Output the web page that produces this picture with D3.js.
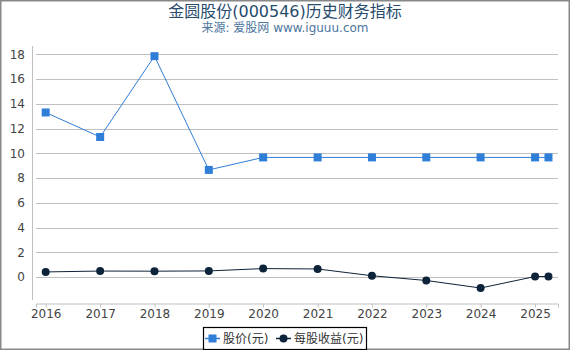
<!DOCTYPE html>
<html>
<head>
<meta charset="utf-8">
<script src="https://cdn.jsdelivr.net/npm/d3@7"></script>
<style>
  body { margin: 0; background: #fff; }
  svg { display: block; font-family: "DejaVu Sans", "Noto Sans CJK SC", sans-serif; }
</style>
</head>
<body>
<svg id="chart" width="570" height="350"></svg>
<script>
// data
const dates = ['2016-01-01', '2017-01-01', '2018-01-01', '2019-01-01', '2020-01-01', '2021-01-01',
  '2022-01-01', '2023-01-01', '2024-01-01', '2025-01-01', '2025-04-01'];
const price = [13.3, 11.32, 17.85, 8.66, 9.67, 9.67, 9.67, 9.67, 9.67, 9.67, 9.67];
const eps = [0.42, 0.49, 0.48, 0.5, 0.69, 0.66, 0.11, -0.27, -0.88, 0.05, 0.05];
const yTicks = [0, 2, 4, 6, 8, 10, 12, 14, 16, 18];
const seriesNames = ['股价(元)', '每股收益(元)'];
const colors = ['#2f7ed8', '#0d233a'];

const svg = d3.select('#chart');
const W = 570, H = 350;
const parse = d3.timeParse('%Y-%m-%d');
const xs = dates.map(parse);

// frame
svg.append('rect').attr('x', 0.5).attr('y', 0.5).attr('width', W - 1).attr('height', H - 1)
  .attr('fill', '#fff').attr('stroke', '#888').attr('stroke-width', 2);

svg.append('text').attr('x', W / 2).attr('y', 17).attr('text-anchor', 'middle')
  .attr('font-size', 16).attr('fill', '#274b6d').text('金圆股份(000546)历史财务指标');
svg.append('text').attr('x', W / 2).attr('y', 32).attr('text-anchor', 'middle')
  .attr('font-size', 12).attr('fill', '#4d759e').text('来源: 爱股网 www.iguuu.com');

const mLeft = 36, mRight = 558, mTop = 46, mBottom = 303;

const x = d3.scaleTime()
  .domain([parse('2015-10-28'), parse('2025-06-04')])
  .range([mLeft, mRight]);
const y = d3.scaleLinear().domain([-2.09, 18.67]).range([mBottom, mTop]);

// grid
svg.append('g').selectAll('line').data(yTicks).join('line')
  .attr('x1', mLeft).attr('x2', mRight)
  .attr('y1', d => Math.round(y(d)) + 0.5).attr('y2', d => Math.round(y(d)) + 0.5)
  .attr('stroke', '#c0c0c0').attr('stroke-width', 1);

// y axis
const yAxis = svg.append('g').attr('transform', `translate(${mLeft - 4},0)`)
  .call(d3.axisLeft(y).tickValues(yTicks).tickSize(0).tickPadding(7));
yAxis.select('.domain').attr('stroke', '#c0c0c0').attr('d', `M0.5,${mTop}V${mBottom - 3}`);
yAxis.selectAll('text').attr('font-size', 12).attr('fill', '#444')
  .attr('font-family', '"DejaVu Sans", sans-serif');

// x axis
const xAxis = svg.append('g').attr('transform', `translate(0,${mBottom + 0.5})`)
  .call(d3.axisBottom(x).ticks(d3.timeYear.every(1)).tickFormat(d3.timeFormat('%Y')).tickSize(4).tickPadding(2));
xAxis.select('.domain').attr('stroke', '#c0c0c0');
xAxis.selectAll('line').attr('stroke', '#c0c0c0');
xAxis.selectAll('text').attr('font-size', 12).attr('fill', '#444')
  .attr('font-family', '"DejaVu Sans", sans-serif');

const series = [price, eps];
series.forEach((vals, k) => {
  const line = d3.line().x((d, i) => x(xs[i])).y(d => y(d));
  svg.append('path').datum(vals).attr('d', line)
    .attr('fill', 'none').attr('stroke', colors[k]).attr('stroke-width', 1);
  const g = svg.append('g');
  if (k === 0) {
    g.selectAll('rect').data(vals).join('rect')
      .attr('x', (d, i) => x(xs[i]) - 4).attr('y', d => y(d) - 4)
      .attr('width', 8).attr('height', 8).attr('fill', colors[k]);
  } else {
    g.selectAll('circle').data(vals).join('circle')
      .attr('cx', (d, i) => x(xs[i])).attr('cy', d => y(d)).attr('r', 4)
      .attr('fill', colors[k]);
  }
});

// legend
const lg = svg.append('g');
lg.append('rect').attr('x', 203.5).attr('y', 327.5).attr('width', 163).attr('height', 22)
  .attr('fill', '#fff').attr('stroke', '#000').attr('stroke-width', 1.2);
const itemX = [205, 276];
seriesNames.forEach((name, k) => {
  const g = lg.append('g').attr('transform', `translate(${itemX[k]},338)`);
  g.append('line').attr('x1', 0).attr('x2', 15).attr('y1', 0.5).attr('y2', 0.5)
    .attr('stroke', colors[k]).attr('stroke-width', 1.5);
  if (k === 0) g.append('rect').attr('x', 3.5).attr('y', -3.5).attr('width', 8).attr('height', 8).attr('fill', colors[k]);
  else g.append('circle').attr('cx', 7.5).attr('cy', 0.5).attr('r', 4).attr('fill', colors[k]);
  g.append('text').attr('x', 18).attr('y', 5).attr('font-size', 12).attr('fill', '#333').text(name);
});
</script>
</body>
</html>
